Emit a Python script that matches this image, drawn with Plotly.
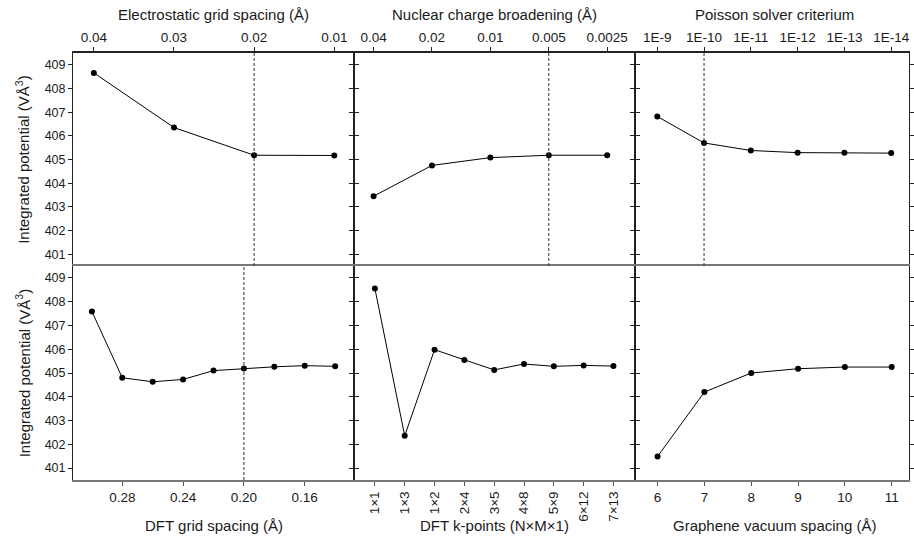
import plotly.graph_objects as go

# ---- data ----
elec_x = [0.04, 0.03, 0.02, 0.01]
elec_y = [408.66, 406.35, 405.18, 405.17]
nuc_labels = ["0.04", "0.02", "0.01", "0.005", "0.0025"]
nuc_y = [403.45, 404.75, 405.08, 405.18, 405.18]
pois_labels = ["1E-9", "1E-10", "1E-11", "1E-12", "1E-13", "1E-14"]
pois_y = [406.82, 405.70, 405.38, 405.29, 405.28, 405.27]
grid_x = [0.30, 0.28, 0.26, 0.24, 0.22, 0.20, 0.18, 0.16, 0.14]
grid_y = [407.59, 404.80, 404.63, 404.73, 405.10, 405.19, 405.26, 405.31, 405.28]
kpt_labels = ["1×1", "1×3", "1×2", "2×4", "3×5", "4×8", "5×9", "6×12", "7×13"]
kpt_y = [408.55, 402.36, 405.98, 405.55, 405.13, 405.38, 405.28, 405.32, 405.29]
vac_x = [6, 7, 8, 9, 10, 11]
vac_y = [401.49, 404.20, 405.00, 405.18, 405.25, 405.25]

y_ticks = [401, 402, 403, 404, 405, 406, 407, 408, 409]

FONT = "Liberation Sans, Arial, sans-serif"
TXT = "#1a1a1a"

W, H = 914, 538
ML, MT, MB = 73, 53, 58
PW = W - ML
PH = H - MT - MB

def px_x(p):
    return (p - ML) / PW

def px_y(p):
    return 1 - (p - MT) / PH

c1 = px_x(356)
c2 = px_x(638)
rmid = px_y(266)

fig = go.Figure()

def add(x, y, n):
    fig.add_trace(go.Scatter(
        x=x, y=y, mode="lines+markers",
        line=dict(color="black", width=1),
        marker=dict(color="black", size=6),
        xaxis="x" if n == 1 else f"x{n}",
        yaxis="y" if n == 1 else f"y{n}",
        showlegend=False, hoverinfo="skip"))

add(elec_x, elec_y, 1)
add(nuc_labels, nuc_y, 2)
add(pois_labels, pois_y, 3)
add(grid_x, grid_y, 4)
add(kpt_labels, kpt_y, 5)
add(vac_x, vac_y, 6)

xdoms = [[0, c1], [c1, c2], [c2, 1]]
ydoms = {"top": [rmid, 1], "bot": [0, rmid]}

def yax(col, row, labels):
    return dict(
        domain=ydoms[row], range=[400.5, 409.5], tickvals=y_ticks,
        showticklabels=labels, ticks="outside", ticklen=4, tickwidth=1.2,
        tickcolor="#222", showline=True, linecolor="#222", linewidth=1,
        mirror="ticks", showgrid=False, zeroline=False,
        tickfont=dict(size=12.5, color=TXT, family=FONT),
    )

xtick_font = dict(size=13.5, color=TXT, family=FONT)
common_top = dict(side="top", ticks="outside", ticklen=4, tickwidth=1,
                  tickcolor="#222", showline=True, linecolor="#222",
                  linewidth=1.5, mirror=False, showgrid=False, zeroline=False,
                  tickfont=xtick_font)
common_bot = dict(side="bottom", ticks="outside", ticklen=4, tickwidth=1,
                  tickcolor="#555", showline=True, linecolor="#777",
                  linewidth=2, mirror=True, showgrid=False, zeroline=False,
                  tickfont=xtick_font)

layout = dict(
    width=W, height=H,
    margin=dict(l=ML, r=0, t=MT, b=MB),
    paper_bgcolor="white", plot_bgcolor="white",
    font=dict(family=FONT, color=TXT),
    xaxis=dict(domain=xdoms[0], anchor="y", range=[0.0426, 0.0075],
               tickvals=elec_x, ticktext=["0.04", "0.03", "0.02", "0.01"],
               **common_top),
    xaxis2=dict(domain=xdoms[1], anchor="y2", type="category",
                range=[-0.33, 4.47], **common_top),
    xaxis3=dict(domain=xdoms[2], anchor="y3", type="category",
                range=[-0.483, 5.38], **common_top),
    xaxis4=dict(domain=xdoms[0], anchor="y4", range=[0.3124, 0.1274],
                tickvals=[0.28, 0.24, 0.20, 0.16], tickformat=".2f",
                **common_bot),
    xaxis5=dict(domain=xdoms[1], anchor="y5", type="category",
                range=[-0.69, 8.71], tickangle=-90, **common_bot),
    xaxis6=dict(domain=xdoms[2], anchor="y6", range=[5.51, 11.37],
                tickvals=vac_x, **common_bot),
)
for i, (col, row) in enumerate([(1, "top"), (2, "top"), (3, "top"),
                                 (1, "bot"), (2, "bot"), (3, "bot")], start=1):
    ya = yax(col, row, col == 1)
    ya["anchor"] = "x" if i == 1 else f"x{i}"
    layout["yaxis" if i == 1 else f"yaxis{i}"] = ya

fig.update_layout(**layout)

# dashed reference lines at the chosen settings
dash_specs = [(1, 0.02), (2, nuc_labels.index("0.005")),
              (3, pois_labels.index("1E-10")), (4, 0.20)]
for n, xv in dash_specs:
    xr = "x" if n == 1 else f"x{n}"
    yr = "y domain" if n == 1 else f"y{n} domain"
    fig.add_shape(type="line", xref=xr, yref=yr, x0=xv, x1=xv, y0=0, y1=1,
                  line=dict(color="#333", width=1, dash="3px,2px"))

# axis titles as annotations
title_font = dict(size=15, color=TXT, family=FONT)
top_titles = ["Electrostatic grid spacing (Å)", "Nuclear charge broadening (Å)",
              "Poisson solver criterium"]
bot_titles = ["DFT grid spacing (Å)", "DFT k-points (N×M×1)",
              "Graphene vacuum spacing (Å)"]
centers = [px_x(214.5), px_x(497), px_x(779)]
for cx, t in zip(centers, top_titles):
    fig.add_annotation(text=t, x=cx, y=px_y(15), xref="paper", yref="paper",
                       showarrow=False, xanchor="center", yanchor="middle",
                       font=title_font)
for cx, t in zip(centers, bot_titles):
    fig.add_annotation(text=t, x=cx, y=px_y(525), xref="paper", yref="paper",
                       showarrow=False, xanchor="center", yanchor="middle",
                       font=title_font)
for cy in [px_y(159.5), px_y(373)]:
    fig.add_annotation(text="Integrated potential (VÅ<sup>3</sup>)",
                       x=px_x(22), y=cy, xref="paper", yref="paper",
                       showarrow=False, textangle=-90, xanchor="center",
                       yanchor="middle", font=title_font)

fig.write_html("out.html")
